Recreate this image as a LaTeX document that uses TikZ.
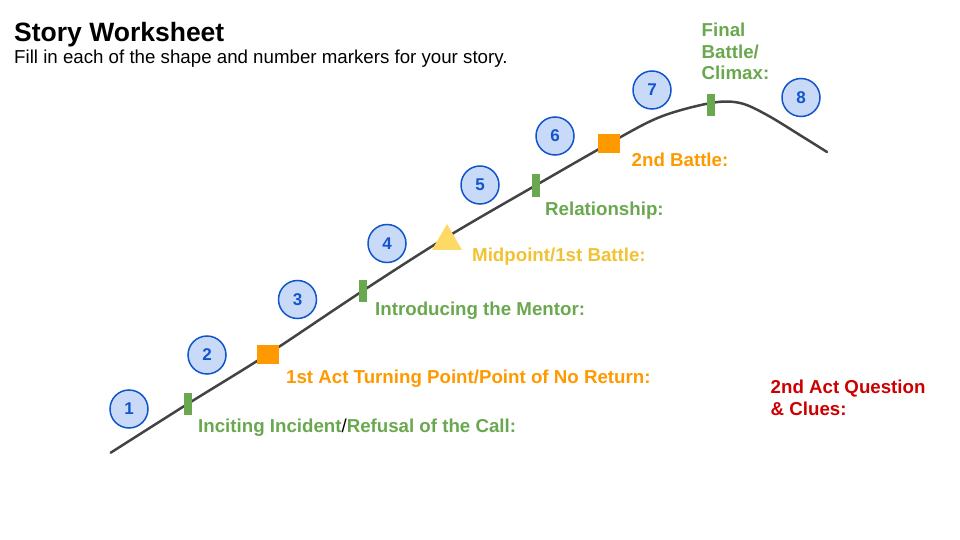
\documentclass[tikz,border=0pt]{standalone}
\usepackage{fontspec}
\setmainfont{Liberation Sans}
\usetikzlibrary{shapes.geometric}

\definecolor{numblue}{HTML}{1155CC}
\definecolor{numfill}{HTML}{C9DAF8}
\definecolor{beatgreen}{HTML}{6AA84F}
\definecolor{battleorange}{HTML}{FF9900}
\definecolor{midyellow}{HTML}{F1C232}
\definecolor{trifill}{HTML}{FFD966}
\definecolor{clue}{HTML}{CC0000}
\definecolor{arcline}{HTML}{434343}

\begin{document}
\begin{tikzpicture}[x=1pt,y=-1pt,
    every node/.style={inner sep=0pt, font=\fontsize{18.7}{21.7}\selectfont\bfseries},
    num/.style={circle, draw=numblue, line width=1.5pt, fill=numfill, minimum size=38pt,
      text=numblue, font=\fontsize{17}{18}\selectfont\bfseries},
    beat/.style={fill=beatgreen, minimum width=8pt, minimum height=22pt},
    battle/.style={fill=battleorange, minimum width=22pt, minimum height=19pt},
    lbl/.style={anchor=base west, align=left}]
    \useasboundingbox (0,0) rectangle (960,540);

    % title
    \node[lbl, font=\fontsize{26.5}{30}\selectfont\bfseries] (title) at (14,42) {Story Worksheet};
    \node[lbl, font=\fontsize{18.7}{21.7}\selectfont] (sub) at (14,63.5)
        {Fill in each of the shape and number markers for your story.};

    % points on the story arc
    \coordinate (start) at (110.7,452.7);
    \coordinate (p1) at (187.5,404);
    \coordinate (p2) at (268,354);
    \coordinate (p3) at (362.5,291);
    \coordinate (p4) at (447,237);
    \coordinate (p5) at (535.5,185.5);
    \coordinate (p6) at (609,143.5);
    \coordinate (p7) at (711,103);
    \coordinate (finish) at (827,152);

    % the arc
    \draw[arcline, line width=2.5pt, line cap=round] plot[smooth, tension=0.55] coordinates
        {(start) (p1) (p2) (p3) (p4) (p5) (p6) (660,117) (p7) (740,103) (767,115) (803,137) (finish)};

    % shape markers
    \node[beat] (m1) at (p1) {};
    \node[battle] (m2) at (p2) {};
    \node[beat] (m3) at (p3) {};
    \node[regular polygon, regular polygon sides=3, fill=trifill, minimum size=34.6pt] (m4) at (447,241.3) {};
    \node[beat] (m5) at (p5) {};
    \node[battle] (m6) at (p6) {};
    \node[beat] (m7) at (711,105.5) {};

    % number markers
    \node[num] (n1) at (129,409) {1};
    \node[num] (n2) at (207,355) {2};
    \node[num] (n3) at (297.5,299.5) {3};
    \node[num] (n4) at (387,243.5) {4};
    \node[num] (n5) at (480,185) {5};
    \node[num] (n6) at (555,136) {6};
    \node[num] (n7) at (652,90) {7};
    \node[num] (n8) at (801,97.5) {8};

    % labels (base = last line)
    \node[lbl, text=beatgreen] (incite) at (198,432)
        {Inciting Incident\textcolor{black}{\mdseries/}Refusal of the Call:};
    \node[lbl, text=battleorange] (turn) at (286,383) {1st Act Turning Point/Point of No Return:};
    \node[lbl, text=beatgreen] (mentor) at (375,315) {Introducing the Mentor:};
    \node[lbl, text=midyellow] (midpt) at (472,261) {Midpoint/1st Battle:};
    \node[lbl, text=beatgreen] (relation) at (545,215) {Relationship:};
    \node[lbl, text=battleorange] (battle2) at (631.5,167) {2nd Battle:};
    \node[lbl, text=beatgreen] (climax) at (701.5,80) {Final\\Battle/\\Climax:};
    \node[lbl, text=clue] (question) at (770.5,415) {2nd Act Question\\\& Clues:};
\end{tikzpicture}
\end{document}
